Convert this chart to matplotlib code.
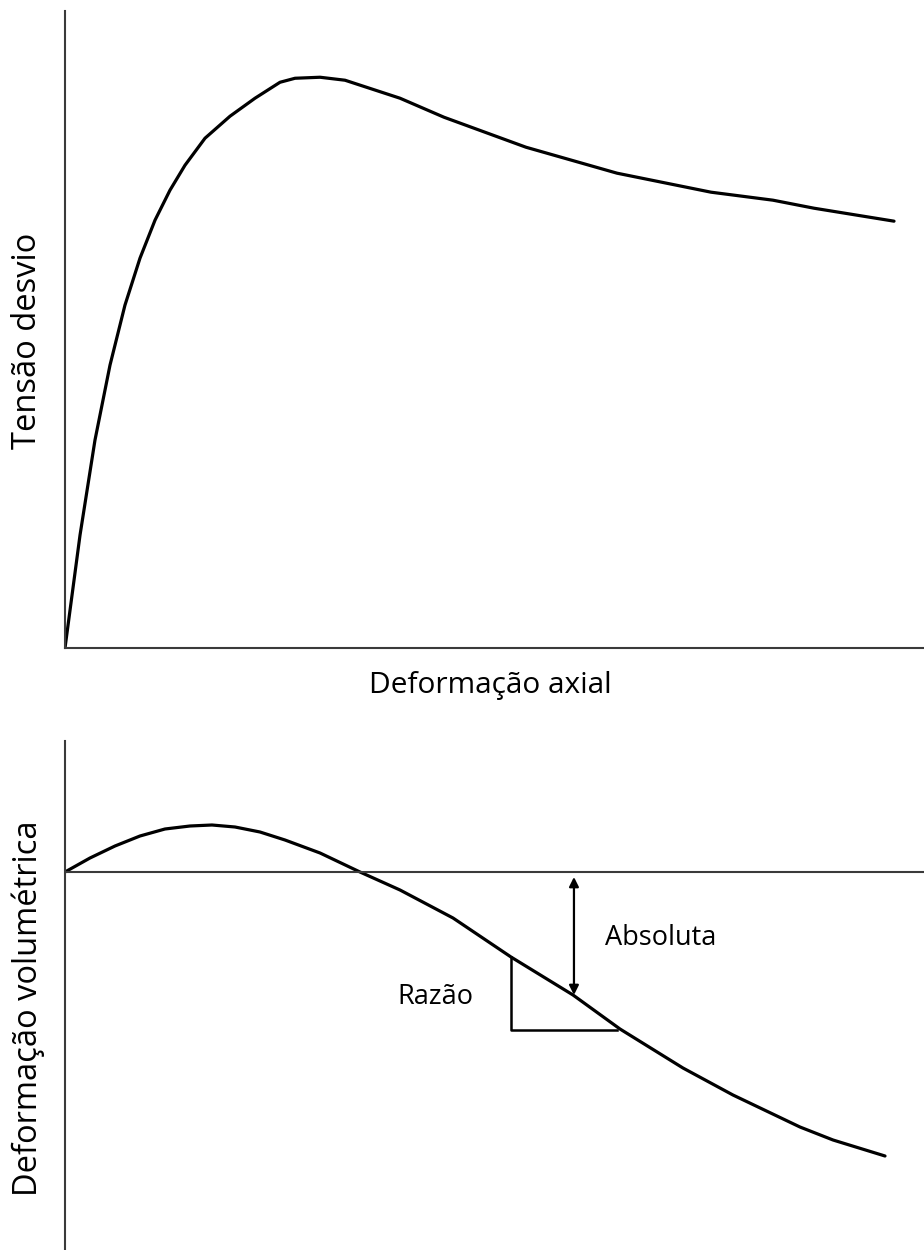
import matplotlib
matplotlib.use("Agg")
import matplotlib.pyplot as plt

plt.rcParams['font.family'] = ['Open Sans', 'DejaVu Sans']

# Tensão desvio vs deformação axial (schematic, arbitrary units)
axial_strain = [0, 1.75, 3.49, 5.24, 6.98, 8.73, 10.48, 12.22, 13.97, 16.30, 19.21,
                22.12, 25.03, 26.78, 29.69, 32.60, 39.0, 44.12, 53.67, 64.26, 75.2,
                82.42, 87.19, 96.51]
deviator_stress = [0, 17.77, 32.70, 44.50, 53.93, 61.32, 67.30, 72.01, 75.94, 80.19, 83.65,
                   86.48, 88.99, 89.62, 89.78, 89.31, 86.48, 83.49, 78.77, 74.69, 71.70,
                   70.44, 69.18, 67.14]

# Deformação volumétrica vs deformação axial
vol_x = [0, 2.91, 5.82, 8.73, 11.64, 14.55, 17.11, 19.79, 22.70, 25.61, 29.69,
         34.34, 39.0, 45.17, 51.92, 59.14, 64.61, 71.94, 77.76, 85.56, 89.41, 95.46]
vol_strain = [0, 1.4, 2.6, 3.6, 4.3, 4.6, 4.7, 4.5, 4.0, 3.2, 1.9,
              0, -1.8, -4.6, -8.5, -12.3, -15.7, -19.6, -22.3, -25.5, -26.8, -28.4]

# slope triangle ("Razão") and absolute arrow ("Absoluta")
tri_x = [51.92, 51.92, 64.26]
tri_y = [-8.5, -15.8, -15.8]
arrow_x = 59.25
arrow_y = (-0.5, -12.3)

W, H = 924, 1250
fig = plt.figure(figsize=(W / 100, H / 100), dpi=100)

def box(left, top, right, bottom):
    return [left / W, 1 - bottom / H, (right - left) / W, (bottom - top) / H]

spine_col = '#3a3a3a'

# top panel
ax1 = fig.add_axes(box(65, 11, 924, 648))
ax1.plot(axial_strain, deviator_stress, color='black', lw=2.3,
         solid_capstyle='round', solid_joinstyle='round')
ax1.set_xlim(0, 100)
ax1.set_ylim(0, 100.2)
for s in ['top', 'right']:
    ax1.spines[s].set_visible(False)
for s in ['left', 'bottom']:
    ax1.spines[s].set_color(spine_col)
    ax1.spines[s].set_linewidth(1.5)
ax1.set_xticks([])
ax1.set_yticks([])

# bottom panel
ax2 = fig.add_axes(box(65, 741, 924, 1250))
ax2.plot(vol_x, vol_strain, color='black', lw=2.3,
         solid_capstyle='round', solid_joinstyle='round')
ax2.axhline(0, color=spine_col, lw=1.5)
ax2.plot(tri_x, tri_y, color='black', lw=1.8)
ax2.annotate('', xy=(arrow_x, arrow_y[0]), xytext=(arrow_x, arrow_y[1]),
             arrowprops=dict(arrowstyle='<|-|>', color='black', lw=1.6,
                             mutation_scale=14, shrinkA=0, shrinkB=0))
ax2.text(62.86, -6.6, 'Absoluta', fontsize=19.5, ha='left', va='center')
ax2.text(47.5, -12.5, 'Razão', fontsize=19.5, ha='right', va='center')
ax2.set_xlim(0, 100)
ax2.set_ylim(-37.8, 13.1)
for s in ['top', 'right', 'bottom']:
    ax2.spines[s].set_visible(False)
ax2.spines['left'].set_color(spine_col)
ax2.spines['left'].set_linewidth(1.5)
ax2.set_xticks([])
ax2.set_yticks([])

# axis titles
fig.text(490 / W, 1 - 686 / H, 'Deformação axial', fontsize=21.5, ha='center', va='center')
fig.text(28 / W, 1 - 341 / H, 'Tensão desvio', fontsize=23.5, rotation=90,
         ha='center', va='center')
fig.text(28 / W, 1 - 1008 / H, 'Deformação volumétrica', fontsize=23.5, rotation=90,
         ha='center', va='center')

fig.savefig('out.png', dpi=100, facecolor='white')
